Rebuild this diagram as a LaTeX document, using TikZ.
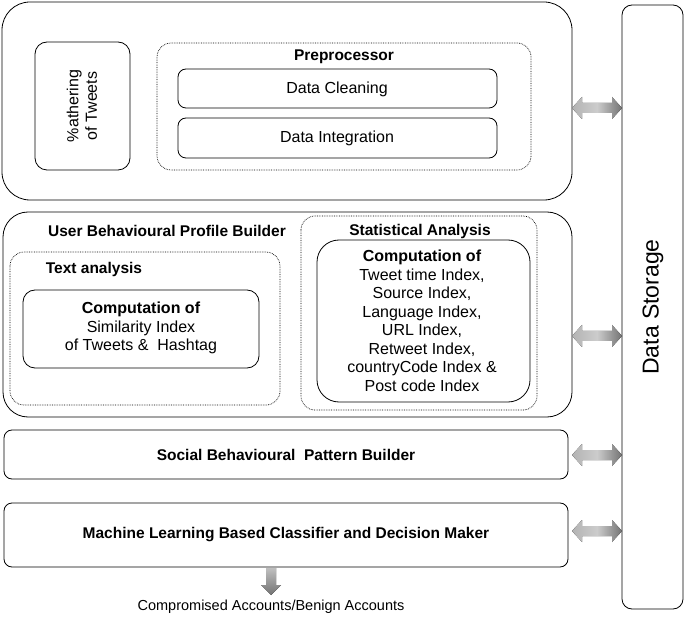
\documentclass[tikz,border=0pt]{standalone}
\usepackage{fontspec}
\setmainfont{Liberation Sans}
\begin{document}
\begin{tikzpicture}[x=1pt,y=-1pt,
 box/.style={draw=black,line width=0.8pt,rounded corners=#1},
 box/.default=10pt,
 dbox/.style={draw=black,densely dotted,line width=0.7pt,rounded corners=14pt},
 ttl/.style={font=\bfseries\fontsize{15.5}{18}\selectfont},
 txt/.style={font=\fontsize{16}{18.5}\selectfont,align=center}]
\useasboundingbox (0,0) rectangle (685,617);
\newcommand{\darr}[1]{%
 \fill[left color=gray!60,right color=gray!90!black,middle color=gray!40]
 (572,#1) -- (582,#1-11) -- (582,#1-5) -- (612,#1-5) -- (612,#1-11) -- (622,#1)
 -- (612,#1+11) -- (612,#1+5) -- (582,#1+5) -- (582,#1+11) -- cycle;}
% storage
\draw[box=10pt] (622,5) rectangle (683,609);
\node[rotate=90,font=\fontsize{23}{26}\selectfont] (ds) at (653,307) {Data Storage};
% top
\draw[box=28pt] (2,2) rectangle (572,200);
\draw[box=12pt] (35,42) rectangle (130,170);
\node[rotate=90,txt] (g) at (82,106) {\%athering\\of Tweets};
\draw[dbox] (157,43) rectangle (531,170);
\node[ttl] (pp) at (344,57) {Preprocessor};
\draw[box=8pt] (178,69) rectangle (497,108);
\node[txt] (dc) at (337,89) {Data Cleaning};
\draw[box=8pt] (178,118) rectangle (497,158);
\node[txt] (di) at (337,138) {Data Integration};
% second
\draw[box=25pt] (3,212) rectangle (572,417);
\node[ttl] (ub) at (167,231) {User Behavioural Profile Builder};
\draw[dbox] (10,252) rectangle (280,405);
\node[ttl] (ta) at (94,269) {Text analysis};
\draw[box=12pt] (23,290) rectangle (259,368);
\node[txt] (cs) at (141,328) {\textbf{Computation of}\\Similarity Index\\of Tweets \&\ \ Hashtag};
\draw[dbox] (301,216) rectangle (537,410);
\node[ttl] (sa) at (420,231) {Statistical Analysis};
\draw[box=22pt] (317,240) rectangle (530,402);
\node[txt] (ci) at (422,321) {\textbf{Computation of}\\Tweet time Index,\\Source Index,\\Language Index,\\URL Index,\\Retweet Index,\\countryCode Index \&\\Post code Index};
% social
\draw[box=8pt] (4,430) rectangle (568,479);
\node[ttl] (sb) at (286,455) {Social Behavioural\ \ Pattern Builder};
\draw[box=8pt] (4,503) rectangle (568,567);
\node[ttl] (ml) at (286,535) {Machine Learning Based Classifier and Decision Maker};
% arrows
\darr{108}\darr{336}\darr{455}\darr{531}
\fill[top color=gray!50,bottom color=gray!90!black] (266,568) -- (276,568) -- (276,585) -- (281,585) -- (271,595) -- (261,585) -- (266,585) -- cycle;
\node[font=\fontsize{14.5}{17}\selectfont] (out) at (271,607) {Compromised Accounts/Benign Accounts};
\end{tikzpicture}
\end{document}
